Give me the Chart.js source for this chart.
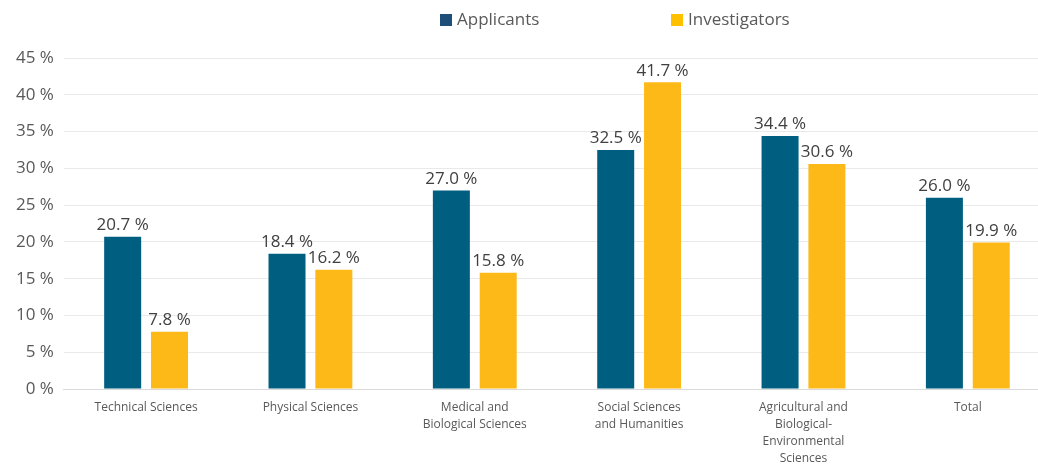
<!DOCTYPE html>
<html lang="en">
<head>
  <meta charset="UTF-8">
  <title>Applicants and Investigators by Field</title>
  <script src="https://cdn.jsdelivr.net/npm/chart.js"></script>
  <style>
    html, body {
      margin: 0;
      padding: 0;
      background: #fff;
      overflow: hidden;
    }
    #wrap {
      width: 1038px;
      height: 466px;
      overflow: hidden;
    }
  </style>
</head>
<body>
  <!-- canvas is a bit wider than the frame: the original plot runs past the right edge -->
  <div id="wrap"><canvas id="fieldChart" width="1050" height="466"></canvas></div>

  <script>
    const categories = [
      ['Technical Sciences'],
      ['Physical Sciences'],
      ['Medical and', 'Biological Sciences'],
      ['Social Sciences', 'and Humanities'],
      ['Agricultural and', 'Biological-', 'Environmental', 'Sciences'],
      ['Total']
    ];
    const applicants = [20.7, 18.4, 27.0, 32.5, 34.4, 26.0];
    const investigators = [7.8, 16.2, 15.8, 41.7, 30.6, 19.9];
    const seriesNames = ['Applicants', 'Investigators'];

    const FONT = '"Open Sans", Arial, sans-serif';
    const barColors = ['#005f80', '#fdb918'];
    const legendColors = ['#1f4e79', '#ffc000'];

    // value labels above each bar
    const barLabels = {
      id: 'barLabels',
      afterDatasetsDraw(chart) {
        const ctx = chart.ctx;
        ctx.save();
        ctx.font = '17px ' + FONT;
        ctx.fillStyle = '#404040';
        ctx.textAlign = 'center';
        ctx.textBaseline = 'bottom';
        chart.data.datasets.forEach((ds, i) => {
          chart.getDatasetMeta(i).data.forEach((bar, j) => {
            ctx.fillText(ds.data[j].toFixed(1) + ' %', bar.x, bar.y - 3);
          });
        });
        ctx.restore();
      }
    };

    // simple top legend, wide gap like the original
    const topLegend = {
      id: 'topLegend',
      afterDraw(chart) {
        const ctx = chart.ctx;
        ctx.save();
        ctx.font = '17px ' + FONT;
        ctx.textBaseline = 'middle';
        const starts = [440, 671];
        seriesNames.forEach((name, i) => {
          ctx.fillStyle = legendColors[i];
          ctx.fillRect(starts[i], 14, 12, 12);
          ctx.fillStyle = '#595959';
          ctx.fillText(name, starts[i] + 17, 20);
        });
        ctx.restore();
      }
    };

    new Chart(document.getElementById('fieldChart'), {
      type: 'bar',
      data: {
        labels: categories,
        datasets: [
          {
            label: seriesNames[0],
            data: applicants,
            backgroundColor: barColors[0],
            categoryPercentage: 0.57,
            barPercentage: 0.79
          },
          {
            label: seriesNames[1],
            data: investigators,
            backgroundColor: barColors[1],
            categoryPercentage: 0.57,
            barPercentage: 0.79
          }
        ]
      },
      options: {
        responsive: false,
        animation: false,
        layout: {
          padding: { top: 58, left: 6, right: 0, bottom: 0 }
        },
        plugins: {
          legend: { display: false },
          tooltip: { enabled: false }
        },
        scales: {
          x: {
            grid: { display: false, drawTicks: false },
            border: { color: '#d9d9d9', width: 1 },
            ticks: {
              color: '#595959',
              font: { family: FONT, size: 12, lineHeight: '17px' },
              padding: 10,
              maxRotation: 0,
              autoSkip: false
            },
            afterFit(scale) {
              scale.height -= 11;
            }
          },
          y: {
            min: 0,
            max: 45,
            grid: { color: '#e9e9e9', drawTicks: false },
            border: { display: false },
            ticks: {
              stepSize: 5,
              color: '#595959',
              padding: 10,
              font: { family: FONT, size: 17 },
              callback: v => v + ' %'
            }
          }
        }
      },
      plugins: [barLabels, topLegend]
    });
  </script>
</body>
</html>
